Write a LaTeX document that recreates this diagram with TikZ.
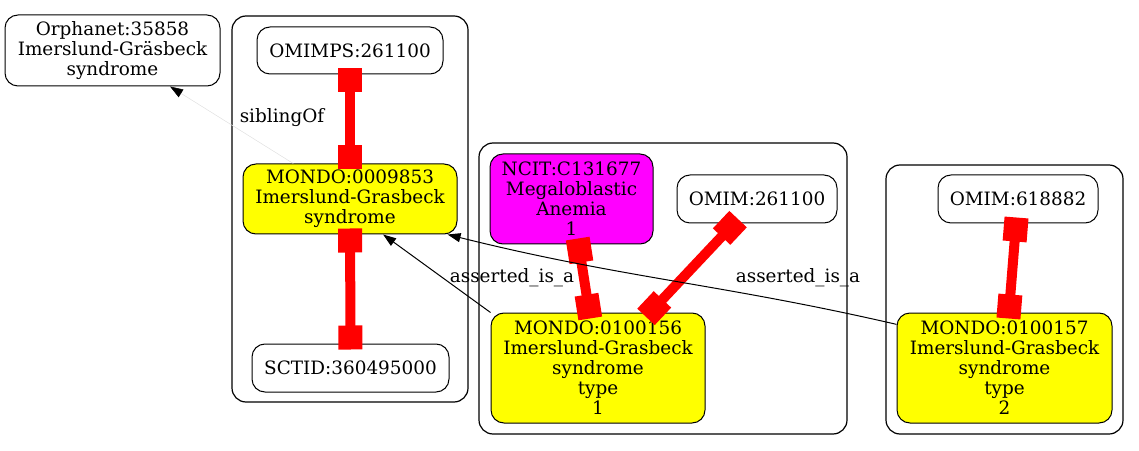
\documentclass[tikz,border=0pt]{standalone}
\usepackage{fontspec}
\setmainfont{DejaVu Serif}
\usetikzlibrary{arrows.meta}
\definecolor{termyellow}{RGB}{255,255,0}
\definecolor{termmagenta}{RGB}{255,0,255}
\definecolor{xrefred}{RGB}{255,0,0}

\begin{document}
\begin{tikzpicture}[x=1pt,y=1pt,
    term/.style={draw, line width=1pt, rounded corners=13pt, align=center, inner sep=0pt, font=\fontsize{18.4}{20}\selectfont},
    cluster/.style={draw, line width=1.2pt, rounded corners=14pt},
    xref/.style={xrefred, line width=10pt, {Rectangle[length=24pt,width=24pt]}-{Rectangle[length=24pt,width=24pt]}, shorten <=-6pt, shorten >=-6pt},
    isa/.style={line width=1pt, -{Triangle[length=13pt,width=9pt]}},
    sibling/.style={draw=black!12, line width=0.5pt, -{Triangle[length=13pt,width=9pt,black]}},
    lbl/.style={font=\fontsize{18.4}{20}\selectfont}]
    \useasboundingbox (0,0) rectangle (1139,450);
    % clusters
    \draw[cluster] (232,434) rectangle (468,48);
    \draw[cluster] (479,307) rectangle (847,16);
    \draw[cluster] (886,285) rectangle (1123,16);
    % terms
    \node[term, minimum width=215pt, minimum height=71pt] (orpha) at (112.5,399.5) {Orphanet:35858\\Imerslund-Gräsbeck\\syndrome};
    \node[term, minimum width=186pt, minimum height=47pt] (omimps) at (350,399.5) {OMIMPS:261100};
    \node[term, fill=termyellow, minimum width=214pt, minimum height=70pt] (mondoA) at (350,251) {MONDO:0009853\\Imerslund-Grasbeck\\syndrome};
    \node[term, minimum width=197pt, minimum height=48pt] (sctid) at (350.5,82) {SCTID:360495000};
    \node[term, fill=termmagenta, minimum width=163pt, minimum height=90pt] (ncit) at (571.5,251) {NCIT:C131677\\Megaloblastic\\Anemia\\1};
    \node[term, minimum width=160pt, minimum height=48pt] (omimA) at (757,251) {OMIM:261100};
    \node[term, fill=termyellow, minimum width=214pt, minimum height=110pt] (mondoB) at (598,82) {MONDO:0100156\\Imerslund-Grasbeck\\syndrome\\type\\1};
    \node[term, minimum width=160pt, minimum height=48pt] (omimB) at (1018,251) {OMIM:618882};
    \node[term, fill=termyellow, minimum width=215pt, minimum height=110pt] (mondoC) at (1004.5,82) {MONDO:0100157\\Imerslund-Grasbeck\\syndrome\\type\\2};
    % equivalences
    \draw[xref] (omimps) -- (mondoA);
    \draw[xref] (mondoA) -- (sctid);
    \draw[xref] (ncit) -- (mondoB);
    \draw[xref] (omimA) -- (mondoB);
    \draw[xref] (omimB) -- (mondoC);
    % is_a and sibling edges
    \draw[sibling] (mondoA) -- (orpha);
    \node[lbl] (lsib) at (282,332) {siblingOf};
    \draw[isa] (mondoB.north west) -- (mondoA.-47);
    \node[lbl] (lisaB) at (512,172) {asserted\_is\_a};
    \draw[isa] (mondoC.158) to[out=167,in=-14] (mondoA.-20);
    \node[lbl] (lisaC) at (798,172) {asserted\_is\_a};
\end{tikzpicture}
\end{document}
